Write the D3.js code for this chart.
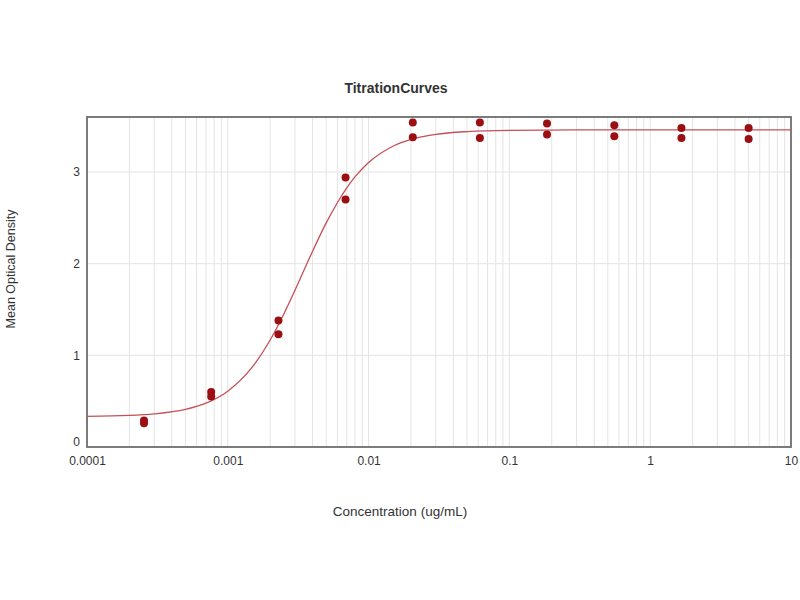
<!DOCTYPE html>
<html>
<head>
<meta charset="utf-8">
<script src="https://cdn.jsdelivr.net/npm/d3@7"></script>
<style>
  body { margin: 0; background: #fff; }
  text { font-family: "Liberation Sans", Arial, sans-serif; fill: #333; }
</style>
</head>
<body>
<svg width="800" height="600"></svg>
<script>
// 3-fold dilution series, duplicate wells
const concentrations = [0.000254, 0.000762, 0.00229, 0.00686, 0.0206, 0.0617, 0.185, 0.556, 1.667, 5]
const odRep1 = [0.29, 0.60, 1.38, 2.94, 3.54, 3.54, 3.53, 3.51, 3.48, 3.48]
const odRep2 = [0.26, 0.55, 1.23, 2.70, 3.38, 3.37, 3.41, 3.39, 3.37, 3.36]

// fitted curve
const curveConc = [0.0001, 0.0002, 0.0003, 0.0005, 0.0007, 0.001, 0.0015, 0.002, 0.0025, 0.003, 0.0035, 0.004, 0.005, 0.006, 0.007, 0.008, 0.01, 0.015, 0.02, 0.03, 0.05, 0.1, 0.3, 1, 10]
const curveOD = [0.334, 0.344, 0.361, 0.41, 0.478, 0.609, 0.876, 1.167, 1.451, 1.71, 1.939, 2.135, 2.445, 2.665, 2.827, 2.946, 3.103, 3.284, 3.356, 3.411, 3.441, 3.455, 3.459, 3.46, 3.46]

const xTicks = [0.0001, 0.001, 0.01, 0.1, 1, 10]
const yTicks = [0, 1, 2, 3]

const svg = d3.select("svg")
const margin = { top: 117, right: 9, bottom: 153, left: 87 }
const width = +svg.attr("width") - margin.left - margin.right
const height = +svg.attr("height") - margin.top - margin.bottom
const g = svg.append("g")
  .attr("transform", "translate(" + margin.left + "," + margin.top + ")")

const x = d3.scaleLog().domain([0.0001, 10]).range([0, width])
const y = d3.scaleLinear().domain([0, 3.6]).range([height, 0])

// grid: every minor decade step
const minor = x.ticks().filter(d => d > 0.0001 && d < 10)
g.append("g").selectAll("line")
  .data(minor)
  .enter().append("line")
  .attr("x1", d => x(d)).attr("x2", d => x(d))
  .attr("y1", 0).attr("y2", height)
  .attr("stroke", "#e4e4e4")
  .attr("stroke-width", 1)

g.append("g").selectAll("line")
  .data(yTicks.filter(d => d > 0))
  .enter().append("line")
  .attr("x1", 0).attr("x2", width)
  .attr("y1", d => y(d)).attr("y2", d => y(d))
  .attr("stroke", "#e4e4e4")

// axes
const xAxis = g.append("g")
  .attr("transform", "translate(0," + height + ")")
  .call(d3.axisBottom(x).tickValues(xTicks).tickFormat(d => String(+d.toPrecision(1))).tickSize(0).tickPadding(9))
xAxis.select(".domain").remove()
xAxis.selectAll("text").style("font-size", "12px").attr("fill", "#444")

const yAxis = g.append("g")
  .call(d3.axisLeft(y).tickValues(yTicks).tickFormat(d3.format("d")).tickSize(0).tickPadding(7))
yAxis.select(".domain").remove()
yAxis.selectAll("text").style("font-size", "12px").attr("fill", "#444")
yAxis.selectAll(".tick").filter(d => d === 0).select("text").attr("dy", "-0.1em")

// frame
g.append("rect")
  .attr("width", width).attr("height", height)
  .attr("fill", "none")
  .attr("stroke", "#6e6e6e")
  .attr("stroke-width", 1.8)

// fitted line
const line = d3.line()
  .x(d => x(d[0]))
  .y(d => y(d[1]))
  .curve(d3.curveMonotoneX)
g.append("path")
  .datum(curveConc.map((c, i) => [c, curveOD[i]]))
  .attr("d", line)
  .attr("fill", "none")
  .attr("stroke", "#c4505a")
  .attr("stroke-width", 1.3)

// points
const pts = concentrations.map((c, i) => [c, odRep1[i]]).concat(concentrations.map((c, i) => [c, odRep2[i]]))
g.selectAll(".pt")
  .data(pts)
  .enter().append("circle")
  .attr("class", "pt")
  .attr("cx", d => x(d[0]))
  .attr("cy", d => y(d[1]))
  .attr("r", 4)
  .attr("fill", "#9b0f12")

// titles
svg.append("text")
  .attr("x", 396).attr("y", 93)
  .attr("text-anchor", "middle")
  .style("font-size", "14px").style("font-weight", "bold")
  .text("TitrationCurves")

svg.append("text")
  .attr("x", 400).attr("y", 516)
  .attr("text-anchor", "middle")
  .style("font-size", "13.5px")
  .attr("fill", "#444")
  .text("Concentration (ug/mL)")

svg.append("text")
  .attr("transform", "translate(15,269) rotate(-90)")
  .attr("text-anchor", "middle")
  .style("font-size", "12.5px")
  .attr("fill", "#444")
  .text("Mean Optical Density")
</script>
</body>
</html>
